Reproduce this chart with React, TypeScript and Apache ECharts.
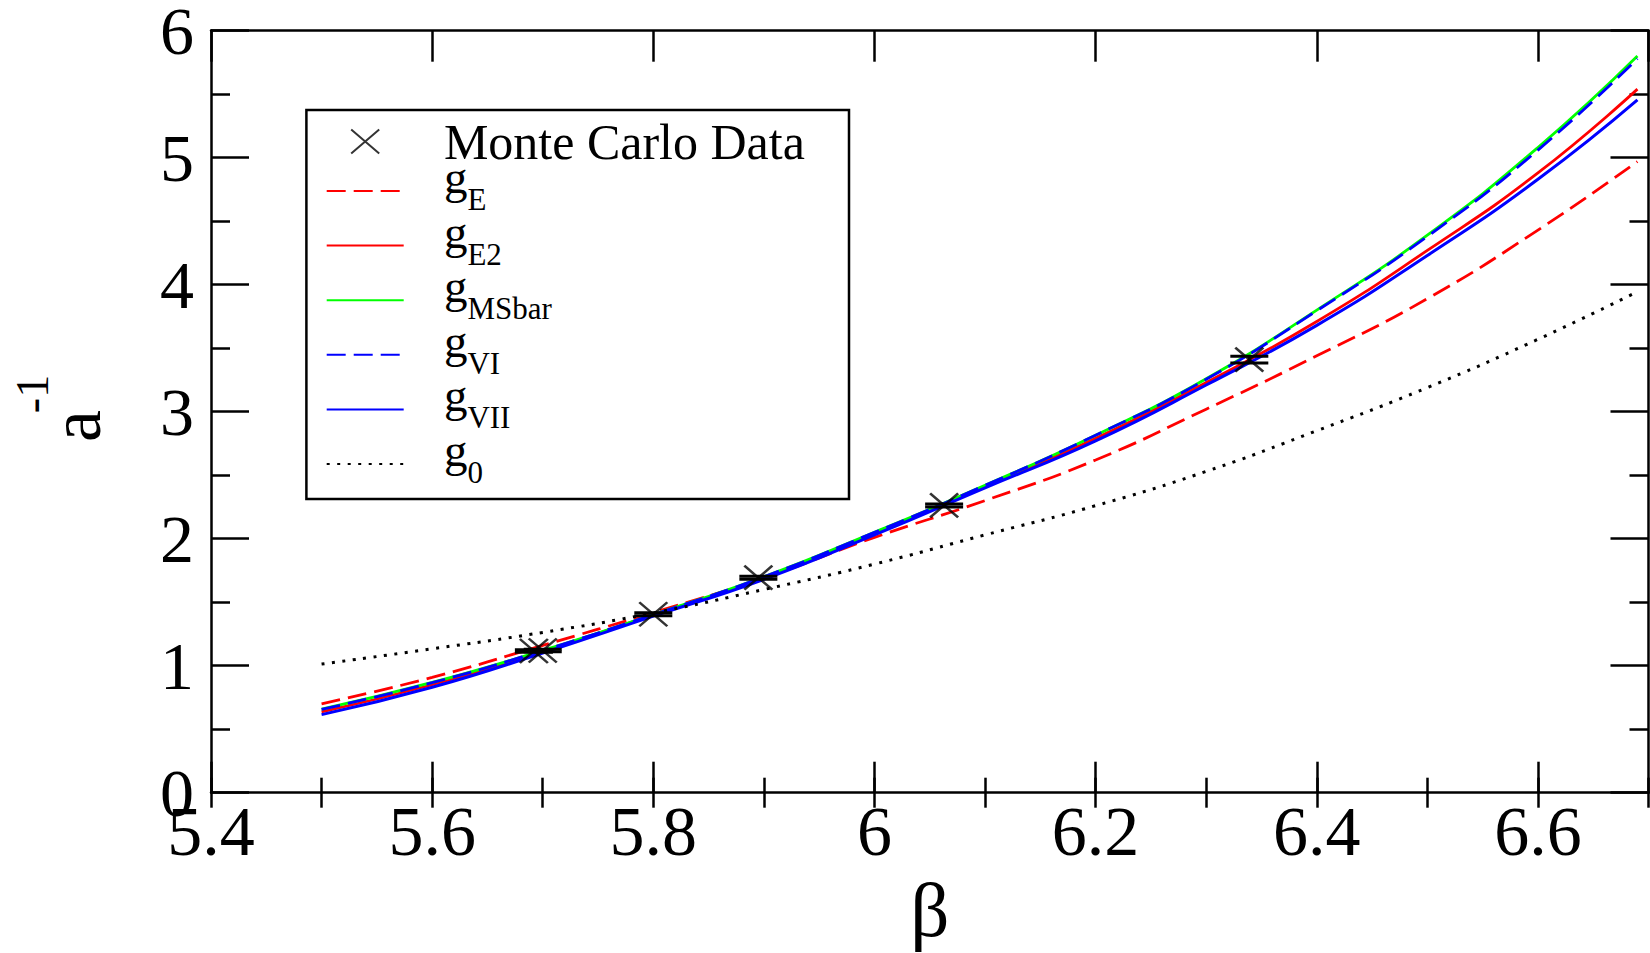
import React, { useEffect, useRef } from "react";
import * as echarts from "echarts";

// ---- data ----
const betaGrid = [5.5, 5.6, 5.7, 5.8, 5.9, 6.0, 6.1, 6.2, 6.3, 6.4, 6.5, 6.6, 6.69];
const gE = [0.7, 0.908, 1.16, 1.418, 1.69, 2.01, 2.3, 2.62, 3.02, 3.44, 3.89, 4.43, 4.97];
const gE2 = [0.637, 0.85, 1.112, 1.4, 1.69, 2.04, 2.41, 2.79, 3.23, 3.71, 4.27, 4.88, 5.54];
const gMSbar = [0.658, 0.868, 1.12, 1.402, 1.7, 2.05, 2.42, 2.815, 3.26, 3.8, 4.39, 5.08, 5.8];
const gVI = [0.656, 0.866, 1.12, 1.402, 1.7, 2.05, 2.42, 2.815, 3.255, 3.795, 4.38, 5.06, 5.78];
const gVII = [0.615, 0.83, 1.1, 1.39, 1.68, 2.03, 2.4, 2.77, 3.21, 3.68, 4.23, 4.83, 5.455];
const g0 = [1.013, 1.133, 1.262, 1.415, 1.6, 1.8, 2.03, 2.26, 2.53, 2.85, 3.19, 3.57, 3.945];

const mcBeta = [5.692, 5.7, 5.8, 5.895, 6.063, 6.339];
const mcValue = [1.116, 1.12, 1.405, 1.693, 2.262, 3.41];
const mcError = [0.01, 0.01, 0.012, 0.012, 0.012, 0.026];

const legendNames = ["Monte Carlo Data", "gE", "gE2", "gMSbar", "gVI", "gVII", "g0"];
const legendSubs: Record<string, string> = {
  gE: "E",
  gE2: "E2",
  gMSbar: "MSbar",
  gVI: "VI",
  gVII: "VII",
  g0: "0",
};

const FONT = "'Liberation Serif', 'Times New Roman', serif";

const pairs = (ys: number[]) => betaGrid.map((b, i) => [b, ys[i]]);

export default function App() {
  const ref = useRef<HTMLDivElement>(null);

  useEffect(() => {
    if (!ref.current) return;
    const chart = echarts.init(ref.current, null, { renderer: "svg" });

    const axisLineStyle = { color: "#000", width: 2.5 };
    const xCommon = {
      type: "value" as const,
      min: 5.4,
      max: 6.7,
      splitLine: { show: false },
      minorTick: { show: false },
      minorSplitLine: { show: false },
    };
    const yCommon = {
      type: "value" as const,
      min: 0,
      max: 6,
      interval: 1,
      splitLine: { show: false },
      minorSplitLine: { show: false },
      axisLine: { show: true, onZero: false, lineStyle: axisLineStyle },
      axisTick: { show: true, inside: true, length: 38, lineStyle: { color: "#000", width: 2.5 } },
      minorTick: { show: true, splitNumber: 2, length: 19, lineStyle: { color: "#000", width: 2.5 } },
    };

    const lineSeries = (name: string, ys: number[], color: string, width: number, type: any, z: number) => ({
      name,
      type: "line",
      xAxisIndex: 0,
      yAxisIndex: 0,
      data: pairs(ys),
      smooth: 0.5,
      showSymbol: false,
      symbol: "none",
      z,
      lineStyle: { color, width, type, cap: "butt" },
      itemStyle: { color },
      emphasis: { disabled: true },
    });

    const hiddenSymbol = { color: "transparent", borderColor: "transparent", borderWidth: 0 };

    const option: any = {
      animation: false,
      backgroundColor: "#fff",
      grid: {
        left: 211,
        top: 30.7,
        width: 1437.5,
        height: 762,
        containLabel: false,
        outerBoundsMode: "none",
      },
      xAxis: [
        {
          ...xCommon,
          position: "bottom",
          interval: 0.2,
          axisLine: { show: true, onZero: false, lineStyle: axisLineStyle },
          axisTick: { show: true, inside: true, length: 31, lineStyle: { color: "#000", width: 2.5 } },
          axisLabel: {
            show: true,
            margin: 4,
            fontSize: 70,
            fontFamily: FONT,
            color: "#000",
            showMaxLabel: false,
          },
          name: "β",
          nameLocation: "middle",
          nameGap: 80,
          nameTextStyle: { fontSize: 77, lineHeight: 66, fontFamily: FONT, color: "#000" },
        },
        {
          ...xCommon,
          position: "bottom",
          interval: 0.1,
          axisLine: { show: false },
          axisTick: { show: true, inside: true, length: 15, lineStyle: { color: "#000", width: 2.5 } },
          axisLabel: { show: false },
        },
        {
          ...xCommon,
          position: "top",
          interval: 0.2,
          axisLine: { show: true, onZero: false, lineStyle: axisLineStyle },
          axisTick: { show: true, inside: true, length: 31, lineStyle: { color: "#000", width: 2.5 } },
          axisLabel: { show: false },
        },
        {
          ...xCommon,
          position: "top",
          interval: 0.1,
          axisLine: { show: false },
          axisTick: { show: true, inside: true, length: 15, lineStyle: { color: "#000", width: 2.5 } },
          axisLabel: { show: false },
        },
      ],
      yAxis: [
        {
          ...yCommon,
          position: "left",
          axisLabel: {
            show: true,
            margin: 17,
            fontFamily: FONT,
            color: "#000",
            formatter: (v: number) => `{n|${v}}`,
            rich: {
              n: { fontSize: 68, height: 52, lineHeight: 52, fontFamily: FONT, color: "#000", verticalAlign: "middle" },
            },
          },
        },
        {
          ...yCommon,
          position: "right",
          axisLabel: { show: false },
        },
      ],
      legend: {
        orient: "vertical",
        left: 325.7,
        top: 109.1,
        padding: 0,
        itemWidth: 77,
        itemHeight: 24,
        itemGap: -20.4,
        selectedMode: false,
        data: legendNames.map((n) =>
          legendSubs[n] !== undefined ? { name: n, itemStyle: hiddenSymbol } : { name: n }
        ),
        formatter: (name: string) =>
          legendSubs[name] !== undefined
            ? `{pad| }{g|g}{sub|${legendSubs[name]}}`
            : `{padA| }{mc|${name}}`,
        textStyle: {
          color: "#000",
          fontFamily: FONT,
          fontSize: 47,
          rich: {
            padA: { width: 35.2, height: 64.8, lineHeight: 64.8, fontSize: 10, verticalAlign: "middle" },
            pad: { width: 35.2, height: 20, lineHeight: 75, fontSize: 10, verticalAlign: "middle" },
            mc: { fontSize: 50, height: 64.8, lineHeight: 64.8, fontFamily: FONT, color: "#000", verticalAlign: "middle" },
            g: { fontSize: 47, height: 47, lineHeight: 47, fontFamily: FONT, color: "#000", verticalAlign: "top" },
            sub: {
              fontSize: 31,
              height: 58,
              lineHeight: 58,
              fontFamily: FONT,
              color: "#000",
              verticalAlign: "bottom",
            },
          },
        },
      },
      graphic: [
        {
          type: "rect",
          shape: { x: 306.4, y: 110, width: 542.6, height: 389 },
          style: { fill: "none", stroke: "#000", lineWidth: 2.5 },
          z: 1,
        },
        {
          type: "text",
          x: 76,
          y: 426,
          rotation: Math.PI / 2,
          style: {
            text: "a",
            fontSize: 72,
            fontFamily: FONT,
            fill: "#000",
            align: "center",
            verticalAlign: "middle",
          },
        },
        {
          type: "text",
          x: 32.5,
          y: 394,
          rotation: Math.PI / 2,
          style: {
            text: "-1",
            fontSize: 46,
            fontFamily: FONT,
            fill: "#000",
            align: "center",
            verticalAlign: "middle",
          },
        },
      ],
      series: [
        {
          name: "errorbars",
          type: "custom",
          xAxisIndex: 0,
          yAxisIndex: 0,
          z: 8,
          silent: true,
          data: mcBeta.map((b, i) => [b, mcValue[i] - mcError[i], mcValue[i] + mcError[i]]),
          encode: { x: 0, y: [1, 2] },
          renderItem: (params: any, api: any) => {
            const x = api.value(0);
            const lo = api.coord([x, api.value(1)]);
            const hi = api.coord([x, api.value(2)]);
            const hw = 19;
            const st = { stroke: "#000", lineWidth: 3 };
            return {
              type: "group",
              children: [
                { type: "line", shape: { x1: lo[0], y1: lo[1], x2: hi[0], y2: hi[1] }, style: st },
                { type: "line", shape: { x1: lo[0] - hw, y1: lo[1], x2: lo[0] + hw, y2: lo[1] }, style: st },
                { type: "line", shape: { x1: hi[0] - hw, y1: hi[1], x2: hi[0] + hw, y2: hi[1] }, style: st },
              ],
            };
          },
        },
        {
          name: "Monte Carlo Data",
          type: "scatter",
          xAxisIndex: 0,
          yAxisIndex: 0,
          z: 9,
          data: mcBeta.map((b, i) => [b, mcValue[i]]),
          symbol: "path://M0,0L28,24M28,0L0,24",
          symbolSize: [28, 24],
          itemStyle: { color: "transparent", borderColor: "#000", borderWidth: 2.5 },
          emphasis: { disabled: true },
        },
        lineSeries("gE", gE, "#ff0000", 2.8, [19, 8], 2),
        lineSeries("gE2", gE2, "#ff0000", 2.8, "solid", 3),
        lineSeries("gMSbar", gMSbar, "#00ff00", 2.8, "solid", 4),
        lineSeries("gVI", gVI, "#0000ff", 2.8, [19, 8], 5),
        lineSeries("gVII", gVII, "#0000ff", 3, "solid", 6),
        lineSeries("g0", g0, "#000000", 3, [3, 7.5], 7),
      ],
    };

    chart.setOption(option);
    return () => chart.dispose();
  }, []);

  return (
    <div
      ref={ref}
      style={{ position: "fixed", left: 0, top: 0, width: 1650, height: 953, background: "#fff" }}
    />
  );
}
